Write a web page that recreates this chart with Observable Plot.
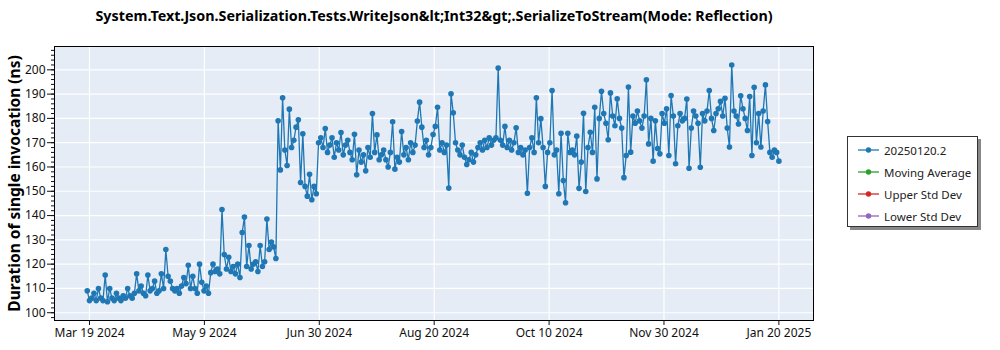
<!DOCTYPE html>
<html>
<head>
<meta charset="utf-8">
<script src="https://cdn.jsdelivr.net/npm/d3@7"></script>
<script src="https://cdn.jsdelivr.net/npm/@observablehq/plot@0.6"></script>
<style>
  html, body { margin: 0; padding: 0; background: #fff; }
  #wrap { position: relative; width: 1000px; height: 350px; font-family: "Segoe UI", "Noto Sans", sans-serif; }
  #legend { position: absolute; left: 847px; top: 136px; width: 131px; height: 91px; background: #fff;
            border: 1px solid #333; box-shadow: 3px 3px 0 #888; box-sizing: border-box; font-size: 11.5px; color: #222; }
  .item { position: absolute; left: 10px; height: 16px; display: flex; align-items: center; }
  .item svg { margin-right: 4px; }
</style>
</head>
<body>
<div id="wrap"><div id="chart"></div><div id="legend"></div></div>
<script>
const title = "System.Text.Json.Serialization.Tests.WriteJson&lt;Int32&gt;.SerializeToStream(Mode: Reflection)";
const yLabel = "Duration of single invocation (ns)";
const startDay = "2024-03-18";           // first measurement, one value per day
const values = [
  109, 105, 106, 108, 105, 110, 106,
  105, 115.5, 104.5, 110, 106, 105, 108,
  106, 105, 107, 106, 110, 107, 106,
  108, 116, 109, 111, 108, 107, 115.5,
  109, 110, 113, 108, 109, 116, 110,
  126, 115, 113, 110, 109, 110, 108,
  111, 114.5, 112, 119.5, 110, 115, 110,
  108, 120, 112.5, 109, 111, 108, 116.5,
  120, 117, 118, 116, 142.5, 124, 118,
  122.8, 117, 119, 116, 120, 114.5, 133,
  139.4, 119, 127.7, 118, 120, 121, 117,
  127.7, 119, 121, 138.6, 126, 129.1, 127.1,
  122.3, 179, 158.8, 188.5, 167, 160.6, 183.8,
  168, 171, 176.4, 179.4, 153.6, 173.7, 152,
  148, 157, 146.5, 152, 149, 170, 172,
  168, 175.8, 166, 169, 172, 164, 170,
  167, 174.2, 165, 169, 171, 166, 163,
  173.5, 156.8, 167, 162, 165, 158.4, 168,
  164, 182, 166, 173.2, 163, 165, 167,
  163, 160, 166, 178.6, 159.1, 164, 162,
  174.6, 165, 168, 163, 170, 166, 169,
  178.9, 186.7, 176.4, 168, 171, 165, 168,
  173.4, 176.7, 184.6, 167, 170, 166, 169,
  151.3, 190.1, 182.3, 170, 167, 165, 169,
  164, 161, 163, 166, 162, 165, 168,
  170, 167, 171, 168, 172, 169, 171,
  172, 200.7, 171, 169, 176.7, 168, 171,
  167, 170, 176.1, 166, 168, 165, 167,
  149.2, 168, 172, 166, 188.5, 170, 179.9,
  168, 152, 166, 170, 191.5, 165, 167,
  149, 173.9, 154.4, 145.3, 173.9, 166, 167,
  165, 172.7, 151.2, 162, 182.1, 149.9, 168,
  174.3, 166, 184.6, 155.1, 180, 191.2, 182,
  178, 171.2, 190.5, 181, 177, 188.1, 180,
  176, 155.6, 164.7, 192.9, 166.1, 181, 178,
  183, 179, 176, 181, 195.9, 169.5, 180,
  162.4, 179, 167.6, 165.4, 182, 178, 184,
  164.7, 189.4, 181, 161.3, 177, 182, 179,
  180, 188, 159.5, 176, 183, 181, 178,
  159.9, 182, 179, 183, 191.5, 180, 175,
  182, 184, 187, 181, 188.3, 176, 168.2,
  202, 183, 181, 177.7, 189.3, 184, 180,
  175, 189, 164.7, 192.8, 170, 182, 168.2,
  183, 193.8, 178.7, 166, 164, 167, 166,
  162.4
];
const xTickLabels = ["Mar 19 2024", "May 9 2024", "Jun 30 2024", "Aug 20 2024", "Oct 10 2024", "Nov 30 2024", "Jan 20 2025"];
const xTickFirst = "2024-03-19";
const xTickLast = "2025-01-20";
const xDomain = ["2024-03-03T10:00:00Z", "2025-02-04T10:00:00Z"];
const yDomain = [96.8, 209.6];
const yTicks = d3.range(100, 201, 10);
const yMinorTicks = d3.range(98, 210, 2);
const legendItems = ["20250120.2", "Moving Average", "Upper Std Dev", "Lower Std Dev"];
const legendColors = ["#1f77b4", "#2ca02c", "#d62728", "#9467bd"];

const start = new Date(startDay + "T00:00:00Z");
const data = values.map((v, i) => ({date: d3.utcDay.offset(start, i), value: v}));
const t0 = new Date(xTickFirst + "T00:00:00Z"), t1 = new Date(xTickLast + "T00:00:00Z");
const xTicks = xTickLabels.map((_, i) => new Date(+t0 + (t1 - t0) * i / (xTickLabels.length - 1)));
const labelMap = new Map(xTicks.map((d, i) => [+d, xTickLabels[i]]));

const chart = Plot.plot({
  width: 1000, height: 350,
  marginLeft: 54, marginRight: 187, marginTop: 46, marginBottom: 30,
  style: {fontFamily: '"Segoe UI", "Noto Sans", sans-serif', fontSize: "12px", color: "#111", background: "transparent", overflow: "visible"},
  x: {type: "utc", domain: xDomain.map(d => new Date(d))},
  y: {domain: yDomain},
  marks: [
    Plot.frame({fill: "#E5ECF6", stroke: null}),
    Plot.gridY(yTicks, {stroke: "white", strokeOpacity: 1, strokeWidth: 1.2}),
    Plot.gridX(xTicks, {stroke: "white", strokeOpacity: 1, strokeWidth: 1.2}),
    Plot.line(data, {x: "date", y: "value", stroke: "#1f77b4", strokeWidth: 1.3}),
    Plot.dot(data, {x: "date", y: "value", r: 2.8, fill: "#1f77b4", stroke: null}),
    Plot.frame({stroke: "black", strokeWidth: 1}),
    Plot.axisY(yTicks, {tickSize: 7, tickPadding: 2, label: null, fontSize: 12}),
    Plot.axisY(yMinorTicks, {tickSize: 3, tickFormat: () => "", label: null}),
    Plot.axisX(xTicks, {tickSize: 5, tickPadding: 3, tickFormat: d => labelMap.get(+d), label: null, fontSize: 12}),
    Plot.text([yLabel], {frameAnchor: "left", dx: -39, rotate: -90, textAnchor: "middle", fontSize: 15.5, fontWeight: "bold", fill: "black"}),
    Plot.text([title], {frameAnchor: "top", dy: -36, fontSize: 14.3, fontWeight: "bold", fill: "black"})
  ]
});
document.getElementById("chart").appendChild(chart);

const legend = document.getElementById("legend");
legendItems.forEach((name, i) => {
  const div = document.createElement("div");
  div.className = "item";
  div.style.top = (5 + i * 22) + "px";
  div.innerHTML = `<svg width="22" height="8"><line x1="0" y1="4" x2="21" y2="4" stroke="${legendColors[i]}" stroke-width="1.3"/><circle cx="10.5" cy="4" r="2.7" fill="${legendColors[i]}"/></svg>`;
  const span = document.createElement("span");
  span.textContent = name;
  div.appendChild(span);
  legend.appendChild(div);
});
</script>
</body>
</html>
